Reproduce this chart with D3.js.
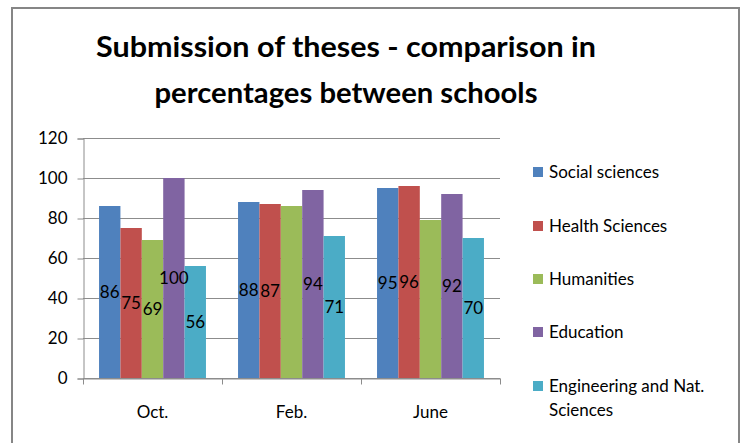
<!DOCTYPE html>
<html>
<head>
<meta charset="utf-8">
<script src="https://cdn.jsdelivr.net/npm/d3@7/dist/d3.min.js"></script>
<style>
  body { margin: 0; background: #fff; }
  svg { display: block; font-family: Lato, "Open Sans", sans-serif; }
</style>
</head>
<body>
<div id="chart"></div>
<script>
// categories (months) and series (schools)
var months = ["Oct.", "Feb.", "June"];
var schools = ["Social sciences", "Health Sciences", "Humanities", "Education", "Engineering and Nat. Sciences"];
var socialSci = [86, 88, 95];
var healthSci = [75, 87, 96];
var humanities = [69, 86, 79];
var education = [100, 94, 92];
var engineering = [56, 71, 70];
var yTicks = [0, 20, 40, 60, 80, 100, 120];
var colors = ["#4F81BD", "#C0504D", "#9BBB59", "#8064A2", "#4BACC6"];
// the original only shows the Humanities label for Oct.
var hideLabel = [[], [], [1, 2], [], []];

var series = [socialSci, healthSci, humanities, education, engineering];

var W = 742, H = 443;
// plot area
var plot = { left: 83, right: 500, top: 138, bottom: 378 };

var svg = d3.select("#chart").append("svg")
  .attr("width", W).attr("height", H);

// outer chart border (bottom is cut off in the picture)
svg.append("path")
  .attr("d", "M12,443 L12,8 L739,8 L739,443")
  .attr("fill", "none")
  .attr("stroke", "#868686")
  .attr("stroke-width", 2);

// title
var title = svg.append("g").attr("font-weight", "bold").attr("fill", "#000")
  .attr("text-anchor", "middle").attr("font-size", 28);
title.append("text").attr("x", 346).attr("y", 57)
  .attr("textLength", 500).attr("lengthAdjust", "spacingAndGlyphs")
  .text("Submission of theses - comparison in");
title.append("text").attr("x", 346).attr("y", 103)
  .attr("textLength", 383).attr("lengthAdjust", "spacingAndGlyphs")
  .text("percentages between schools");

var y = d3.scaleLinear().domain([0, 120]).range([plot.bottom, plot.top]);

var x0 = d3.scaleBand().domain(months).range([plot.left, plot.right]);
var bw = x0.bandwidth();
var barW = bw / 6.5; // gap width 150%
var x1 = d3.scaleBand().domain(d3.range(schools.length))
  .range([barW * 0.75, bw - barW * 0.75]);

// gridlines
svg.append("g").selectAll("line").data(yTicks).join("line")
  .attr("x1", plot.left).attr("x2", plot.right)
  .attr("y1", d => y(d) + 0.5).attr("y2", d => y(d) + 0.5)
  .attr("stroke", "#8c8c8c").attr("stroke-width", 1);

// y axis
var yAxis = svg.append("g")
  .attr("transform", "translate(" + (plot.left + 0.5) + ",0.5)")
  .call(d3.axisLeft(y).tickValues(yTicks).tickSize(6).tickPadding(10));
yAxis.select(".domain").attr("stroke", "#8c8c8c");
yAxis.selectAll(".tick line").attr("stroke", "#8c8c8c");
yAxis.selectAll("text").attr("font-size", 17).attr("fill", "#000")
  .attr("font-family", "Lato, sans-serif");

// bars
var groups = svg.append("g").selectAll("g").data(months).join("g")
  .attr("transform", d => "translate(" + x0(d) + ",0)");

groups.selectAll("rect")
  .data((m, i) => series.map((s, k) => ({ k: k, i: i, v: s[i] })))
  .join("rect")
  .attr("x", d => x1(d.k))
  .attr("width", x1.bandwidth())
  .attr("y", d => y(d.v))
  .attr("height", d => y(0) - y(d.v))
  .attr("fill", d => colors[d.k]);

// data labels, centred in the bar
groups.selectAll("text")
  .data((m, i) => series.map((s, k) => ({ k: k, i: i, v: s[i] }))
    .filter(d => hideLabel[d.k].indexOf(d.i) < 0))
  .join("text")
  .attr("x", d => x1(d.k) + x1.bandwidth() / 2)
  .attr("y", d => (y(d.v) + y(0)) / 2)
  .attr("dy", "0.35em")
  .attr("text-anchor", "middle")
  .attr("font-size", 17)
  .attr("fill", "#000")
  .text(d => d.v);

// x axis
var xAxis = svg.append("g")
  .attr("transform", "translate(0," + (plot.bottom + 0.5) + ")")
  .call(d3.axisBottom(x0).tickSize(0).tickPadding(27));
xAxis.select(".domain").attr("stroke", "#8c8c8c");
xAxis.selectAll("text").attr("font-size", 17).attr("fill", "#000")
  .attr("font-family", "Lato, sans-serif");
// category boundary ticks
var bounds = months.map(d => x0(d)).concat([plot.right]);
xAxis.selectAll(".bound").data(bounds).join("line")
  .attr("class", "bound")
  .attr("x1", d => Math.round(d) + 0.5).attr("x2", d => Math.round(d) + 0.5)
  .attr("y1", 0).attr("y2", 6)
  .attr("stroke", "#8c8c8c");

// legend
var legendY = [172, 226, 279, 332, 386];
var legend = svg.append("g").selectAll("g").data(schools).join("g")
  .attr("transform", (d, i) => "translate(533," + legendY[i] + ")");
legend.append("rect")
  .attr("x", 0).attr("y", -5).attr("width", 10).attr("height", 10)
  .attr("fill", (d, i) => colors[i]);
legend.append("text")
  .attr("x", 16).attr("font-size", 17).attr("fill", "#000")
  .each(function (d) {
    var t = d3.select(this);
    var parts = d === "Engineering and Nat. Sciences" ? ["Engineering and Nat.", "Sciences"] : [d];
    parts.forEach(function (p, j) {
      t.append("tspan").attr("x", 16).attr("dy", j === 0 ? "0.35em" : "24").text(p);
    });
  });
</script>
</body>
</html>
